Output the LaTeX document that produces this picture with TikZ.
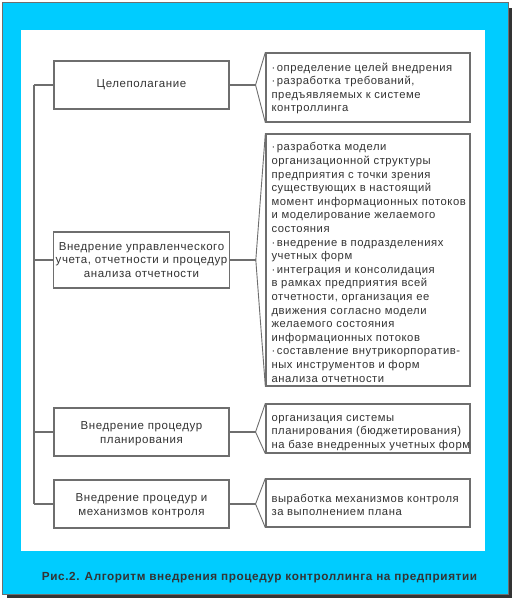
\documentclass[tikz,border=0pt]{standalone}
\usepackage{fontspec}
\setmainfont{Liberation Sans}[LetterSpace=5]
\definecolor{frameC}{HTML}{00CCFF}
\definecolor{shadowC}{HTML}{333333}
\definecolor{lineC}{HTML}{6E6E6E}
\definecolor{txtC}{HTML}{333333}
\newcommand{\bul}{·\hspace{1.5pt}}
\begin{document}
\begin{tikzpicture}[x=1pt,y=-1pt,
  lbox/.style={draw=lineC,line width=1.1pt,fill=white,minimum width=175pt,inner sep=2pt,align=center,text=txtC,font=\fontsize{11.5}{13.8}\selectfont},
  rbox/.style={draw=lineC,line width=1.3pt,fill=white,minimum width=204pt,inner sep=0pt},
  rtext/.style={anchor=west,inner sep=0pt,align=left,text=txtC,font=\fontsize{11.25}{13.6}\selectfont},
  conn/.style={draw=lineC,line width=1.1pt}]
\useasboundingbox (0,0) rectangle (514,599);
% frame
\fill[shadowC] (7,8) rectangle (512,598);
\filldraw[fill=frameC,draw=lineC,line width=0.6pt] (2,2) rectangle (508,594);
\fill[white] (21,30) rectangle (485,551);
% left boxes
\node[lbox,minimum height=48pt] (L1) at (141.5,85) {Целеполагание};
\node[lbox,minimum height=56pt] (L2) at (141.5,260) {Внедрение управленческого\\учета, отчетности и процедур\\анализа отчетности};
\node[lbox,minimum height=48pt] (L3) at (141.5,432) {};
\node[lbox,minimum height=48pt] (L4) at (141.5,504) {};
\node[lbox,draw=none,fill=none,minimum width=0pt,minimum height=0pt] (L3t) at ([yshift=-2pt]L3.center) {Внедрение процедур\\планирования};
\node[lbox,draw=none,fill=none,minimum width=0pt,minimum height=0pt] (L4t) at ([yshift=-2pt]L4.center) {Внедрение процедур и\\механизмов контроля};
% right boxes
\node[rbox,minimum height=69pt] (R1) at (368,87.5) {};
\node[rbox,minimum height=252pt] (R2) at (368,260) {};
\node[rbox,minimum height=49pt] (R3) at (368,428.5) {};
\node[rbox,minimum height=48pt] (R4) at (368,503) {};
\node[rtext] (R1t) at ([xshift=6pt,yshift=-1pt]R1.west) {\bul определение целей внедрения\\\bul разработка требований,\\предъявляемых к системе\\контроллинга};
\node[rtext] (R2t) at ([xshift=6pt,yshift=-2.5pt]R2.west) {\bul разработка модели\\организационной структуры\\предприятия с точки зрения\\существующих в настоящий\\момент информационных потоков\\и моделирование желаемого\\состояния\\\bul внедрение в подразделениях\\учетных форм\\\bul интеграция и консолидация\\в рамках предприятия всей\\отчетности, организация ее\\движения согласно модели\\желаемого состояния\\информационных потоков\\\bul составление внутрикорпоратив-\\ных инструментов и форм\\анализа отчетности};
\node[rtext] (R3t) at ([xshift=6pt,yshift=-4.5pt]R3.west) {организация системы\\планирования (бюджетирования)\\на базе внедренных учетных форм};
\node[rtext] (R4t) at ([xshift=6pt,yshift=-2pt]R4.west) {выработка механизмов контроля\\за выполнением плана};
% trunk
\coordinate (T1) at (34,85);
\coordinate (T4) at (34,504);
\draw[conn] (T1) -- (T4);
\foreach \i in {1,2,3,4}{\draw[conn] (L\i.west) -- (L\i.west -| T1);}
% brackets
\foreach \i in {1,2,3,4}{
  \coordinate (J\i) at ([xshift=26pt]L\i.east);
  \draw[conn] (L\i.east) -- (J\i);
  \draw[conn,line width=0.9pt] (R\i.north west) -- (J\i) -- (R\i.south west);
}
% caption
\node[font=\bfseries\fontsize{11.75}{14}\selectfont,text=shadowC] (cap) at (259.5,578) {Рис.2. Алгоритм внедрения процедур контроллинга на предприятии};
\end{tikzpicture}
\end{document}
